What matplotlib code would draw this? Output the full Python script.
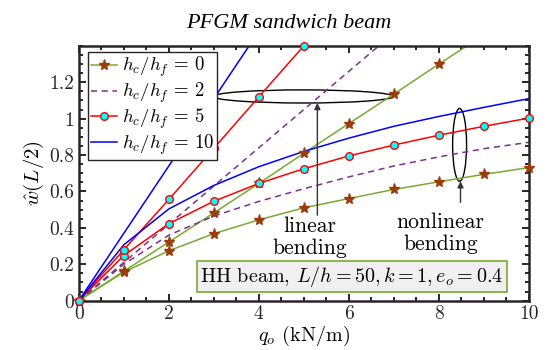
import matplotlib
matplotlib.use('Agg')
import matplotlib.pyplot as plt
import matplotlib.patches as patches
from matplotlib.ticker import MultipleLocator, FuncFormatter
import numpy as np

plt.rcParams['font.family'] = 'cmr10'
plt.rcParams['mathtext.fontset'] = 'cm'
plt.rcParams['axes.formatter.use_mathtext'] = True

# load q_o (kN/m)
q = [0, 1, 2, 3, 4, 5, 6, 7, 8, 9, 10]

# mid-span deflection, nonlinear / linear, per h_c/h_f
w_hc0_nl = [0, 0.157, 0.274, 0.368, 0.444, 0.51, 0.561, 0.611, 0.653, 0.694, 0.731]
w_hc0_lin = [0, 0.162, 0.322, 0.482, 0.644, 0.81, 0.973, 1.135, 1.30, 1.46, 1.62]
w_hc2_nl = [0, 0.20, 0.36, 0.465, 0.545, 0.615, 0.68, 0.74, 0.79, 0.835, 0.87]
w_hc2_lin = [0, 0.21, 0.42, 0.63, 0.84, 1.05, 1.26, 1.47, 1.68, 1.89, 2.10]
w_hc5_nl = [0, 0.248, 0.423, 0.546, 0.644, 0.725, 0.795, 0.855, 0.909, 0.958, 1.003]
w_hc5_lin = [0, 0.28, 0.556, 0.837, 1.12, 1.40, 1.68, 1.96, 2.24, 2.52, 2.80]
w_hc10_nl = [0, 0.307, 0.504, 0.633, 0.736, 0.82, 0.893, 0.958, 1.012, 1.062, 1.11]
w_hc10_lin = [0, 0.37, 0.74, 1.11, 1.48, 1.85, 2.22, 2.59, 2.96, 3.33, 3.70]

labels = [r'$h_c/h_f\, =\, 0$', r'$h_c/h_f\, =\, 2$', r'$h_c/h_f\, =\, 5$', r'$h_c/h_f\, =\, 10$']

GREEN = '#77ac30'
PURPLE = '#7e2f8e'
STAR = '#9a3c0c'
YMAX = 1.4

fig = plt.figure(figsize=(5.55, 3.5), dpi=100)
ax = fig.add_axes([0.142, 0.141, 0.811, 0.728])


def marked(x, y, color, marker, mfc, mec, ms, label=None):
    ax.plot(x, y, '-', color=color, linewidth=1.1)
    x = np.asarray(x, float)
    y = np.asarray(y, float)
    keep = y <= YMAX + 1e-9
    # markers not clipped at the frame (like the original)
    ax.plot(x[keep], y[keep], linestyle='none', marker=marker, markerfacecolor=mfc,
            markeredgecolor=mec, markersize=ms, markeredgewidth=1.0, clip_on=False, zorder=4)
    if label:
        ax.plot([], [], '-', color=color, linewidth=1.1, marker=marker, markerfacecolor=mfc,
                markeredgecolor=mec, markersize=ms, label=label)


marked(q, w_hc0_nl, GREEN, '*', STAR, STAR, 8, labels[0])
marked(q, w_hc0_lin, GREEN, '*', STAR, STAR, 8)
ax.plot(q, w_hc2_nl, '--', color=PURPLE, linewidth=1.1, dashes=(4, 3), label=labels[1])
ax.plot(q, w_hc2_lin, '--', color=PURPLE, linewidth=1.1, dashes=(4, 3))
marked(q, w_hc5_nl, 'red', 'o', 'cyan', 'red', 5.5, labels[2])
marked(q, w_hc5_lin, 'red', 'o', 'cyan', 'red', 5.5)
ax.plot(q, w_hc10_nl, '-', color='blue', linewidth=1.1, label=labels[3])
ax.plot(q, w_hc10_lin, '-', color='blue', linewidth=1.1)

ax.set_xlim(0, 10)
ax.set_ylim(0, YMAX)
ax.set_xticks([0, 2, 4, 6, 8, 10])
ax.set_yticks([0, 0.2, 0.4, 0.6, 0.8, 1.0, 1.2])
ax.xaxis.set_minor_locator(MultipleLocator(0.5))
ax.yaxis.set_minor_locator(MultipleLocator(0.05))
fmt = FuncFormatter(lambda v, p: '%g' % v)
ax.xaxis.set_major_formatter(fmt)
ax.yaxis.set_major_formatter(fmt)
ax.tick_params(which='both', direction='in', top=True, right=True, labelsize=14,
               colors='#262626', width=1.4)
ax.tick_params(which='major', length=5)
ax.tick_params(which='minor', length=3)
for s in ax.spines.values():
    s.set_linewidth(1.8)
    s.set_color('#262626')

ax.set_xlabel(r'$q_o$ (kN/m)', fontsize=14.5, labelpad=0)
ax.set_ylabel(r'$\hat{w}(L/2)$', fontsize=15, labelpad=2)
ax.set_title('PFGM sandwich beam', fontsize=16, fontstyle='italic',
             family='Liberation Serif', x=0.467, pad=13)

# ellipses marking linear and nonlinear groups
ax.add_patch(patches.Ellipse((4.985, 1.122), 4.0, 0.072, fill=False, edgecolor='black', lw=1.0))
ax.add_patch(patches.Ellipse((8.46, 0.856), 0.31, 0.40, fill=False, edgecolor='black', lw=1.0))
ax.annotate('', xy=(5.3, 1.086), xytext=(5.3, 0.47),
            arrowprops=dict(arrowstyle='-|>', color='#333333', lw=1.0, mutation_scale=9,
                            shrinkA=0, shrinkB=0))
ax.annotate('', xy=(8.48, 0.656), xytext=(8.48, 0.54),
            arrowprops=dict(arrowstyle='-|>', color='#333333', lw=1.0, mutation_scale=9,
                            shrinkA=0, shrinkB=0))
ax.text(5.13, 0.35, 'linear\nbending', fontsize=15.5, ha='center', va='center', linespacing=1.15)
ax.text(8.04, 0.37, 'nonlinear\nbending', fontsize=15.5, ha='center', va='center', linespacing=1.15)

ax.text(6.07, 0.135, r'HH beam, $L/h = 50, k = 1, e_o = 0.4$', fontsize=14.5,
        ha='center', va='center',
        bbox=dict(boxstyle='square,pad=0.15', facecolor='#f0f0f0', edgecolor=GREEN, lw=1.2))

leg = ax.legend(loc='upper left', bbox_to_anchor=(0.02, 0.975), borderaxespad=0,
                fontsize=13.5, fancybox=False, framealpha=1, edgecolor='#262626',
                labelspacing=0.08, handlelength=1.4, handletextpad=0.3, borderpad=0.15)
leg.get_frame().set_linewidth(1.0)

plt.savefig('out.png', dpi=100, facecolor='white')
